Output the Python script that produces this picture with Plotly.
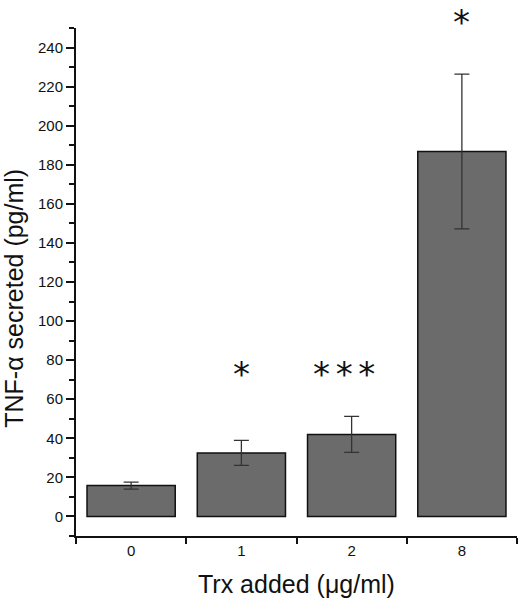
import plotly.graph_objects as go

categories = ["0", "1", "2", "8"]
tnf_values = [15.8, 32.5, 42.0, 186.8]
tnf_errors = [1.8, 6.4, 9.2, 39.6]
sig_marks = ["", "*", "*\u2006*\u2006*", "*"]
sig_levels = [None, 76, 76, 258]

y_range = [-10, 250]

fig = go.Figure()
fig.add_trace(go.Bar(
    x=categories, y=tnf_values, width=0.8,
    marker=dict(color="#6b6b6b", line=dict(color="#111111", width=1.5)),
    error_y=dict(type="data", array=tnf_errors, visible=True,
                 color="#333333", thickness=1.3, width=7.5),
    showlegend=False,
))

for i, (m, lv) in enumerate(zip(sig_marks, sig_levels)):
    if not m:
        continue
    frac = (lv - y_range[0]) / (y_range[1] - y_range[0])
    if frac > 1:
        anchor, shift = "top", 12
    else:
        anchor, shift = "middle", -6
    fig.add_annotation(x=i, y=frac, yref="y domain", text=m, showarrow=False,
                       yanchor=anchor, yshift=shift,
                       xshift=-8 if len(m) > 1 else 0,
                       font=dict(family="DejaVu Sans", size=34, color="#111111"))

fig.add_annotation(x=0, y=0.467, xref="paper", yref="paper", text="TNF-α secreted (pg/ml)",
                   textangle=-90, showarrow=False, xanchor="center", yanchor="middle",
                   xshift=-62,
                   font=dict(family="Liberation Sans", size=25, color="#111111"))
fig.add_annotation(x=0.50, y=0, xref="paper", yref="paper", text="Trx added (μg/ml)",
                   showarrow=False, xanchor="center", yanchor="middle", yshift=-48,
                   font=dict(family="Liberation Sans", size=25, color="#111111"))

fig.update_layout(
    width=520, height=600,
    margin=dict(l=76, r=3, t=28, b=64),
    paper_bgcolor="white", plot_bgcolor="white",
    font=dict(family="Liberation Sans", size=15, color="#111111"),
)
fig.update_xaxes(
    type="category", range=[-0.5, 3.5], tickson="boundaries", ticks="outside", ticklen=6,
    tickwidth=1.5, tickcolor="#111111", showline=True, linecolor="#111111", linewidth=2,
    showgrid=False, zeroline=False, tickfont=dict(size=15),
)
fig.update_yaxes(
    range=y_range, tick0=0, dtick=20, ticks="outside", ticklen=8, tickwidth=1.5,
    tickcolor="#111111", showline=True, linecolor="#111111", linewidth=2,
    showgrid=False, zeroline=False, tickfont=dict(size=15),
    minor=dict(dtick=10, ticks="outside", ticklen=5, tickwidth=1.5, tickcolor="#111111"),
)

fig.write_html("out.html", config={"displayModeBar": False},
               post_script="document.body.style.margin='0';")
